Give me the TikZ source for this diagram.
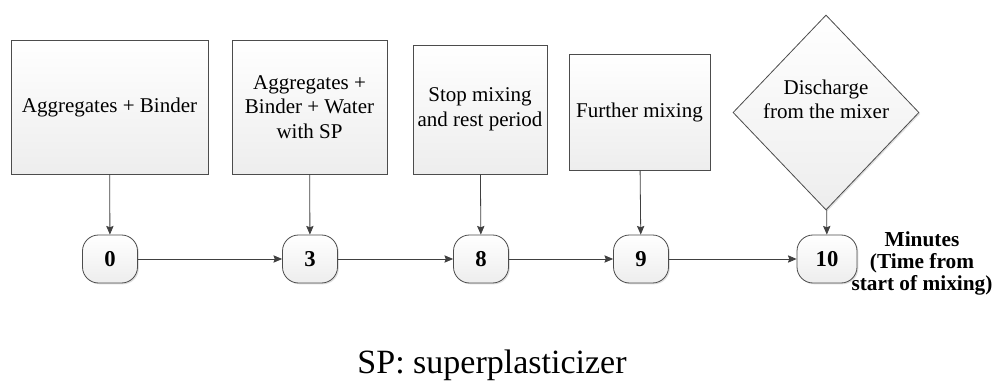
\documentclass[tikz,border=0pt]{standalone}
\usepackage{fontspec}
\setmainfont{Liberation Serif}
\usetikzlibrary{shapes, shadows, arrows.meta, positioning}

\begin{document}
\begin{tikzpicture}[x = 0.75pt, y = -0.75pt, line width = 0.6pt,
		> = {Stealth[length = 6.5pt, width = 5.5pt, inset = 1pt]},
		stagebox/.style = {draw = black!70, top color = white, bottom color = black!7,
			drop shadow = {shadow xshift = 1pt, shadow yshift = -1pt, opacity = 0.25},
			align = center, inner sep = 1pt, font = \fontsize{15.75}{18.4}\selectfont},
		minbox/.style = {draw = black!70, rounded corners = 12pt, top color = white, bottom color = black!7,
			drop shadow = {shadow xshift = 1pt, shadow yshift = -1pt, opacity = 0.25},
			minimum width = 41.25pt, minimum height = 36pt, font = \fontsize{17}{17}\selectfont\bfseries},
		link/.style = {->, draw = black!75}]
	\useasboundingbox (0,0) rectangle (993,381);
	
	% etapas da mistura
	\node [stagebox, minimum width = 147.75pt, minimum height = 100.5pt] (agg) at (109.5,107) {Aggregates + Binder};
	\node [stagebox, minimum width = 116.25pt, minimum height = 100.5pt] (water) at (309.5,107) {Aggregates +\\Binder + Water\\with SP};
	\node [stagebox, minimum width = 100.5pt, minimum height = 96.75pt] (rest) at (480,109.5) {Stop mixing\\and rest period};
	\node [stagebox, minimum width = 105.75pt, minimum height = 87pt] (further) at (639.5,112) {Further mixing};
	\node [stagebox, diamond, inner sep = 0pt, minimum width = 139.5pt, minimum height = 146.25pt,
		label = {[yshift = 10pt, align = center, font = \fontsize{15.75}{18.4}\selectfont]center:Discharge\\from the mixer}]
		(discharge) at (826,112.5) {};
	
	% instantes em minutos
	\node [minbox] (m0) at (110,259) {0};
	\node [minbox] (m3) at (310,259) {3};
	\node [minbox] (m8) at (481,259) {8};
	\node [minbox] (m9) at (641,259) {9};
	\node [minbox, minimum width = 45pt] (m10) at (827,259) {10};
	
	\node [align = center, font = \fontsize{16}{16.2}\selectfont\bfseries] (unit) at (922,263.5)
		{Minutes\\(Time from\\start of mixing)};
	
	% setas
	\draw [link] (agg) -- (m0);
	\draw [link] (water) -- (m3);
	\draw [link] (rest) -- (m8);
	\draw [link] (further) -- (m9);
	\draw [link] (discharge) -- (m10);
	
	\draw [link] (m0) -- (m3);
	\draw [link] (m3) -- (m8);
	\draw [link] (m8) -- (m9);
	\draw [link] (m9) -- (m10);
	
	\node [anchor = base, font = \fontsize{25.5}{25.5}\selectfont] (note) at (492,373) {SP: superplasticizer};
\end{tikzpicture}
\end{document}
